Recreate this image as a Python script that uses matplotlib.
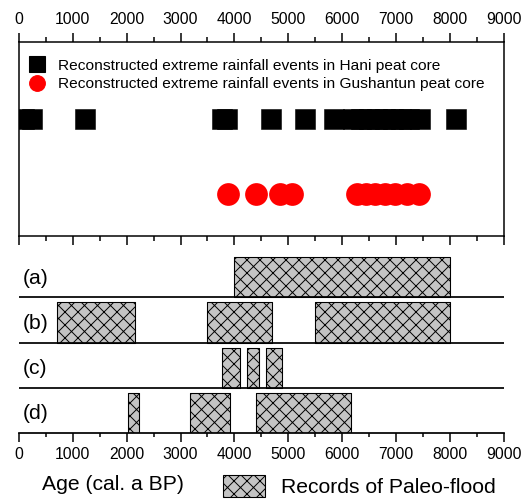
import matplotlib
matplotlib.use("Agg")
import matplotlib.pyplot as plt
from matplotlib.lines import Line2D
from matplotlib.patches import Patch
from matplotlib.ticker import MultipleLocator

plt.rcParams['font.family'] = ['Liberation Sans', 'DejaVu Sans']
plt.rcParams['hatch.linewidth'] = 0.9

# --- data ---
hani_ages = [100, 240, 1220, 3770, 3860, 4680, 5320, 5850,
             6200, 6350, 6500, 6650, 6800, 6950, 7100, 7250, 7440, 8110]
gushantun_ages = [3890, 4400, 4840, 5080,
                  6280, 6450, 6620, 6800, 6980, 7200, 7430]
hani_level = 0.6
gushantun_level = 0.215

row_labels = ['(a)', '(b)', '(c)', '(d)']
flood_a = [(4000, 8000)]
flood_b = [(700, 2150), (3500, 4700), (5500, 8000)]
flood_c = [(3770, 4100), (4230, 4460), (4590, 4880)]
flood_d = [(2030, 2220), (3170, 3920), (4410, 6160)]
flood_rows = [flood_a, flood_b, flood_c, flood_d]

# --- figure ---
DPI = 78
W, H = 524, 502
fig = plt.figure(figsize=(W / DPI, H / DPI), dpi=DPI)


def px_rect(l, t, r, b):
    return [l / W, 1 - b / H, (r - l) / W, (b - t) / H]


ax_top = fig.add_axes(px_rect(19, 41.7, 503.5, 235.7))
ax_bot = fig.add_axes(px_rect(19, 252, 503.5, 433))

# top panel: extreme rainfall events
ax_top.plot(hani_ages, [hani_level] * len(hani_ages), 's', ms=18,
            color='black', mec='black', mew=0.5)
ax_top.plot(gushantun_ages, [gushantun_level] * len(gushantun_ages), 'o',
            ms=21, color='#ff0000', mec='#ff0000', mew=0)
ax_top.set_xlim(0, 9000)
ax_top.set_ylim(0, 1)
ax_top.set_yticks([])
ax_top.xaxis.set_major_locator(MultipleLocator(1000))
ax_top.xaxis.set_minor_locator(MultipleLocator(500))
ax_top.tick_params(axis='x', which='both', top=True, bottom=True,
                   labeltop=True, labelbottom=False, direction='out',
                   width=1.4, labelsize=14.5, pad=5)
ax_top.tick_params(axis='x', which='major', length=8.5)
ax_top.tick_params(axis='x', which='minor', length=4.5)
for s in ax_top.spines.values():
    s.set_linewidth(1.4)

handles = [
    Line2D([], [], ls='none', marker='s', ms=14, color='black'),
    Line2D([], [], ls='none', marker='o', ms=14.5, color='#ff0000'),
]
ax_top.legend(handles,
              ['Reconstructed extreme rainfall events in Hani peat core',
               'Reconstructed extreme rainfall events in Gushantun peat core'],
              loc='upper left', bbox_to_anchor=(0.0, 0.965), frameon=False,
              fontsize=14.3, handlelength=1.0, handletextpad=0.85,
              labelspacing=0.3, borderaxespad=0.3, borderpad=0.35)

# bottom panel: paleo-flood records
n = len(flood_rows)
for i, (lab, spans) in enumerate(zip(row_labels, flood_rows)):
    y0 = n - 1 - i
    ax_bot.broken_barh([(a, b - a) for a, b in spans], (y0, 0.884),
                       facecolor='#c4c4c4', edgecolor='black', lw=1.0,
                       hatch='xx')
    ax_bot.text(70, y0 + 0.42, lab, fontsize=19.5, ha='left', va='center')
    if y0 > 0:
        ax_bot.axhline(y0, color='black', lw=1.6)
ax_bot.set_xlim(0, 9000)
ax_bot.set_ylim(0, n)
ax_bot.set_yticks([])
for side in ['left', 'right', 'top']:
    ax_bot.spines[side].set_visible(False)
ax_bot.spines['bottom'].set_linewidth(1.6)
ax_bot.xaxis.set_major_locator(MultipleLocator(1000))
ax_bot.xaxis.set_minor_locator(MultipleLocator(500))
ax_bot.tick_params(axis='x', which='both', direction='out', width=1.4,
                   labelsize=14.5, pad=5)
ax_bot.tick_params(axis='x', which='major', length=8)
ax_bot.tick_params(axis='x', which='minor', length=4)

fig.text(42 / W, 1 - 484 / H, 'Age (cal. a BP)', fontsize=19.5,
         ha='left', va='center')
fig.legend([Patch(facecolor='#c4c4c4', edgecolor='black', hatch='xx', lw=1.0)],
           ['Records of Paleo-flood'], loc='center left',
           bbox_to_anchor=(223 / W, 1 - 486 / H), frameon=False,
           fontsize=19.5, handlelength=2.0, handleheight=1.25,
           handletextpad=0.75, borderpad=0, borderaxespad=0)

fig.savefig('out.png', dpi=DPI)
